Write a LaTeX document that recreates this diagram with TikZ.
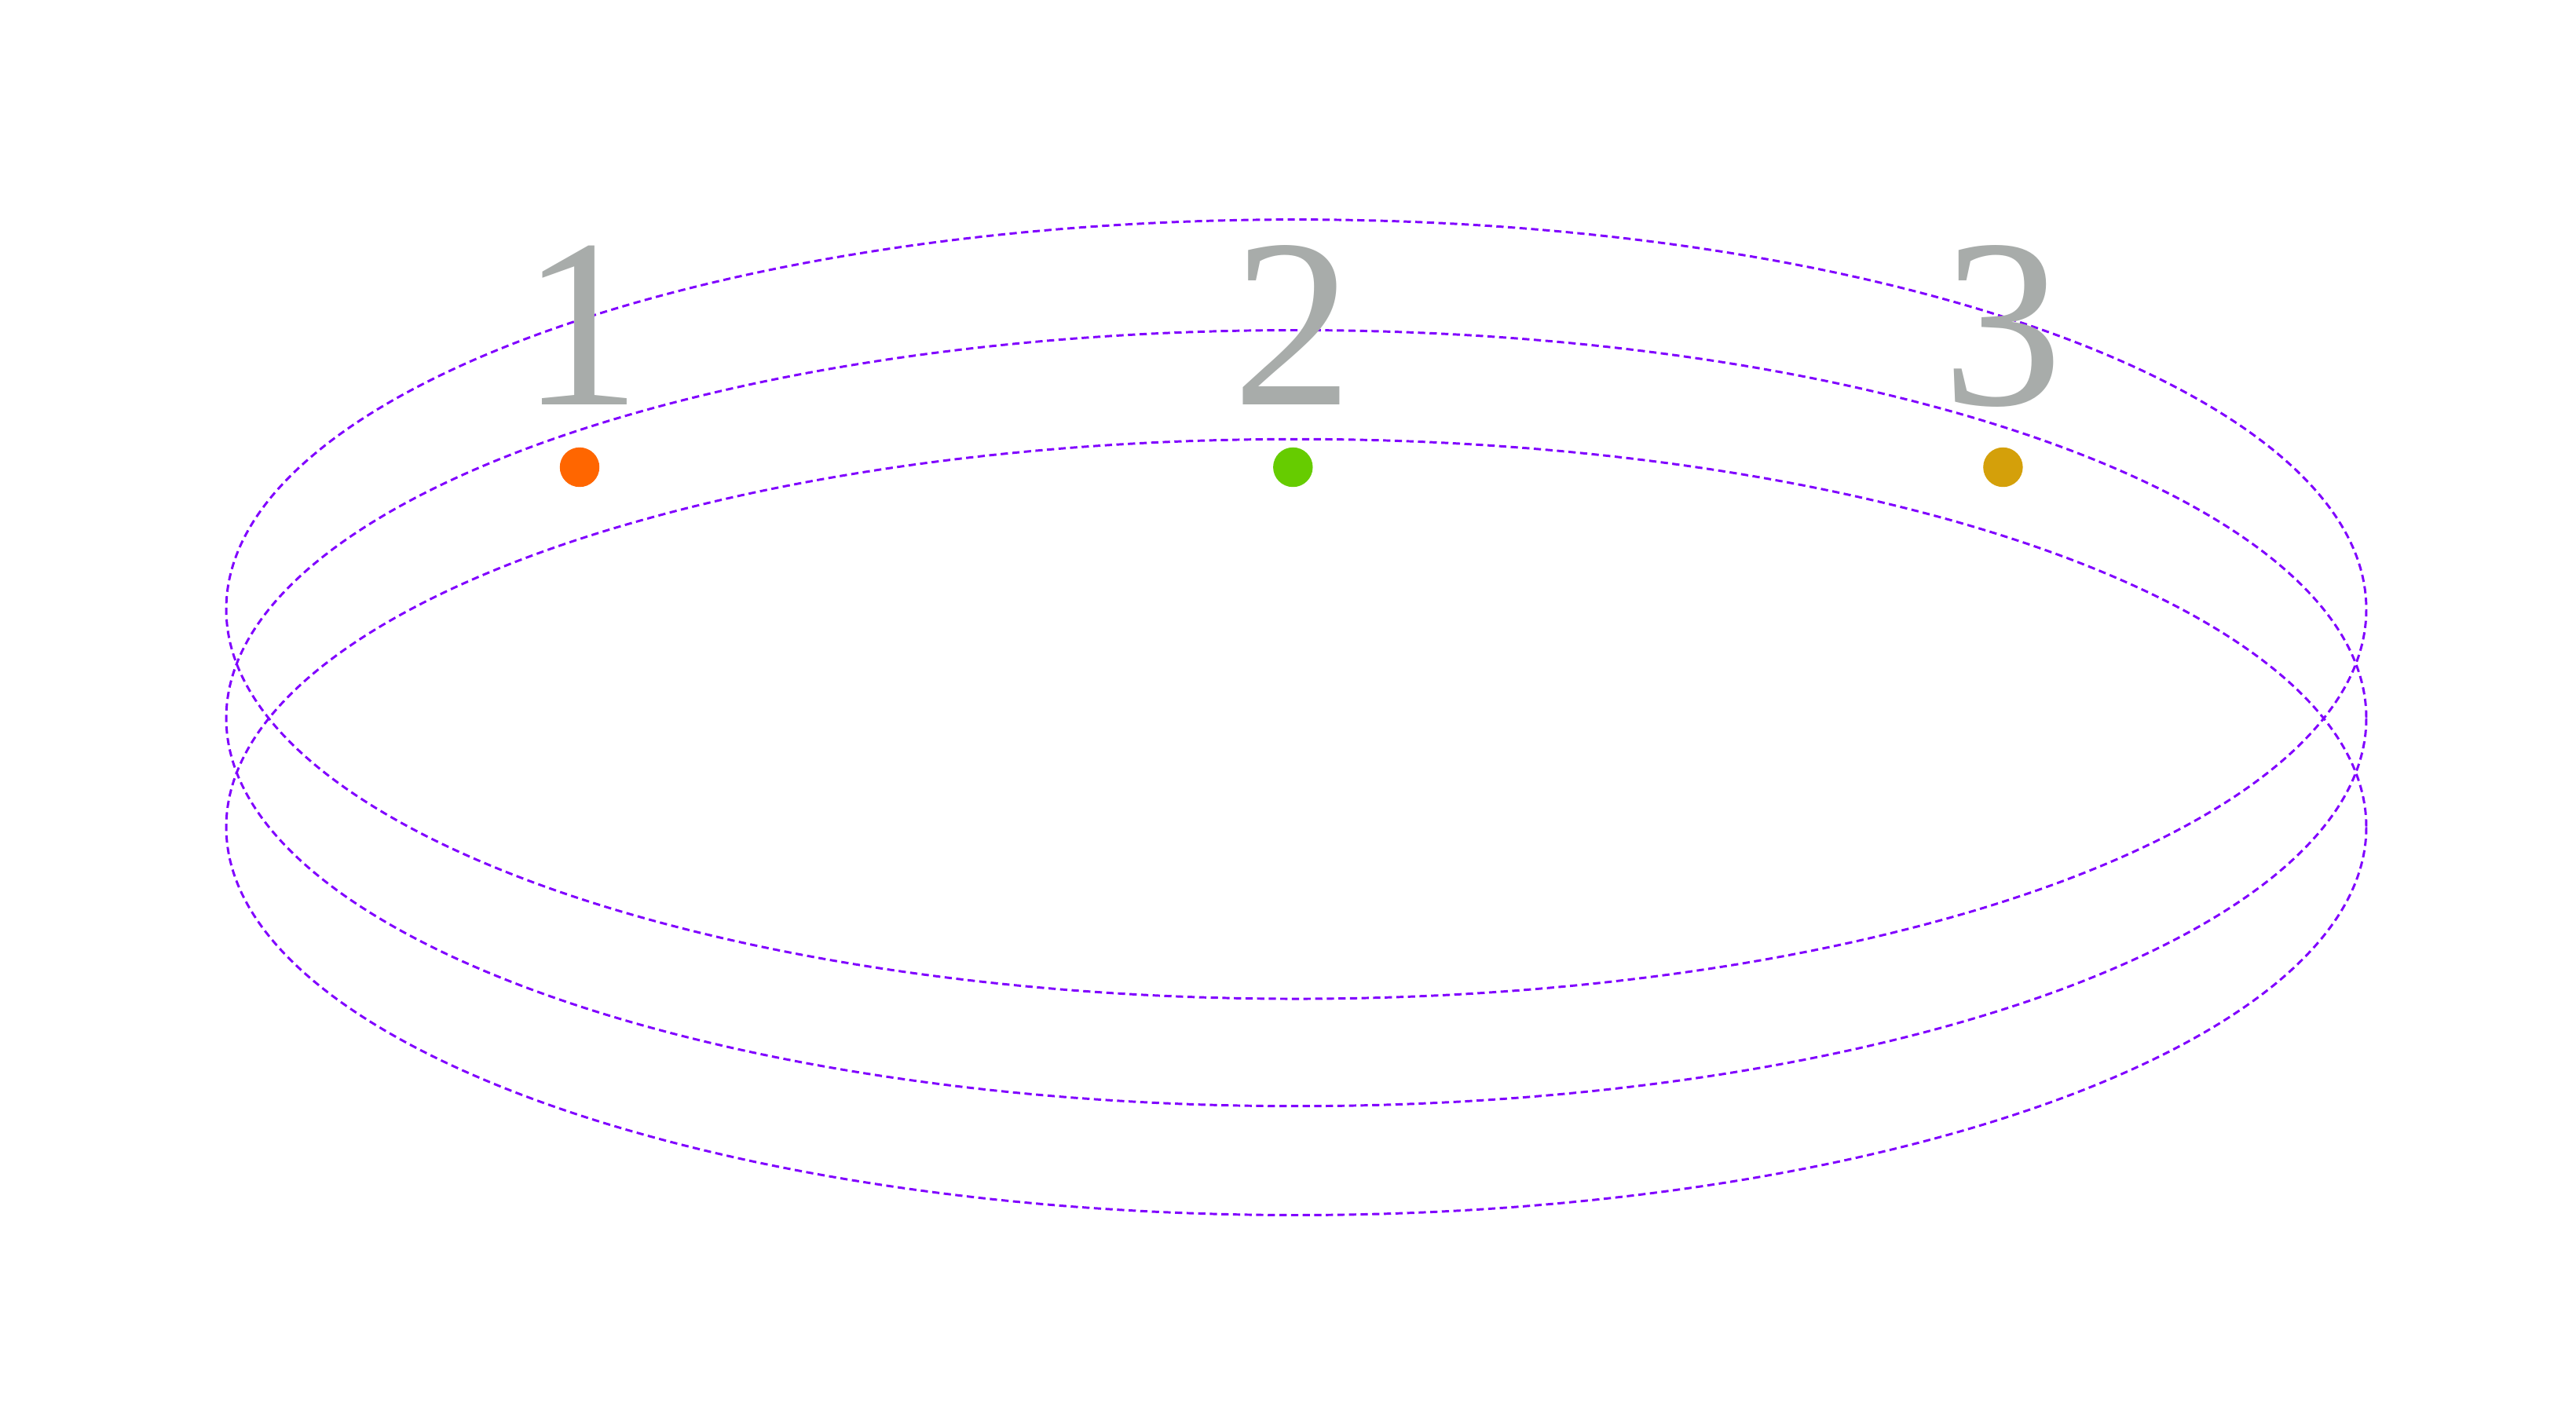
\documentclass[tikz,border=0pt]{standalone}
\usepackage{fontspec}
\setmainfont{Liberation Serif}
\begin{document}
\begin{tikzpicture}[x=0.02cm,y=-0.02cm,
  ring/.style={draw=violet!50!blue, draw={rgb,255:red,128;green,0;blue,255}, line width=0.8pt, dash pattern=on 2.5pt off 1.5pt},
  num/.style={text={rgb,255:red,168;green,172;blue,170}, font=\fontsize{83}{90}\selectfont, anchor=base, inner sep=0pt},
  dot/.style={circle, inner sep=0pt, minimum size=0.48cm}]
\useasboundingbox (0,0) rectangle (1560,861);
\draw[ring] (785,369) ellipse [x radius=648, y radius=236];
\draw[ring] (785,435) ellipse [x radius=648, y radius=235];
\draw[ring] (785,501) ellipse [x radius=648, y radius=235];
\node[num] (n1) at (352,245) {1};
\node[num] (n2) at (783,245) {2};
\node[num] (n3) at (1213,245) {3};
\node[dot, fill={rgb,255:red,255;green,102;blue,0}] (d1) at (351,283) {};
\node[dot, fill={rgb,255:red,102;green,204;blue,0}] (d2) at (783,283) {};
\node[dot, fill={rgb,255:red,212;green,160;blue,10}] (d3) at (1213,283) {};
\end{tikzpicture}
\end{document}
